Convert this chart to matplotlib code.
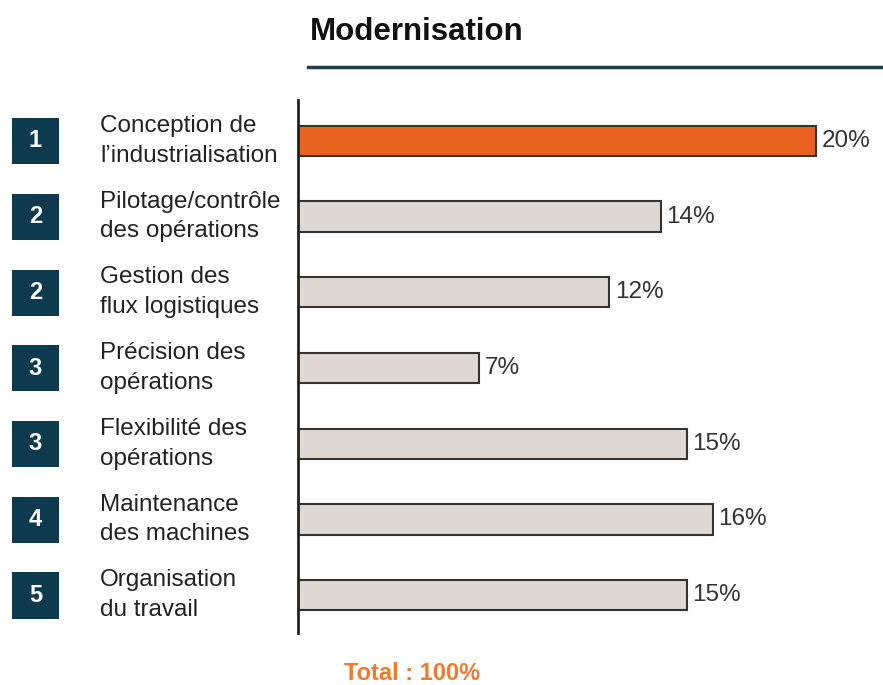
import matplotlib.pyplot as plt
from matplotlib.patches import Rectangle
from matplotlib.transforms import blended_transform_factory

plt.rcParams['font.family'] = ['Liberation Sans', 'DejaVu Sans']

labels = ["Conception de\nl’industrialisation", "Pilotage/contrôle\ndes opérations",
          "Gestion des\nflux logistiques", "Précision des\nopérations",
          "Flexibilité des\nopérations", "Maintenance\ndes machines",
          "Organisation\ndu travail"]
ranks = [1, 2, 2, 3, 3, 4, 5]
values = [20, 14, 12, 7, 15, 16, 15]

orange = "#E8641E"
grey = "#DFD8D2"
navy = "#0E3A50"

fig = plt.figure(figsize=(8.83, 6.85), dpi=100)
ax = fig.add_axes([298 / 883, 52 / 685, 583 / 883, 533 / 685])

ypos = list(range(len(values)))
colors = [orange] + [grey] * (len(values) - 1)
ax.barh(ypos, values, height=0.4, color=colors, edgecolor="#333333", linewidth=1.5)
ax.set_xlim(0, 22.5)
ax.set_ylim(6.5, -0.54)

for y, v in zip(ypos, values):
    ax.text(v + 0.22, y, f"{v}%", va="center", ha="left", fontsize=17.5, color="#333333")

tr = blended_transform_factory(fig.transFigure, ax.transData)
for y, r, lab in zip(ypos, ranks, labels):
    ax.add_patch(Rectangle((12 / 883, y - 0.3), 47 / 883, 0.61, transform=tr,
                           facecolor=navy, edgecolor="none", clip_on=False))
    ax.text(35.5 / 883, y, str(r), transform=tr, ha="center", va="center",
            color="white", fontsize=17, fontweight="bold")
    ax.text(100 / 883, y, lab, transform=tr, ha="left", va="center",
            fontsize=17.5, color="#222222", linespacing=1.45)

for s in ["top", "right", "bottom"]:
    ax.spines[s].set_visible(False)
ax.spines["left"].set_linewidth(2)
ax.spines["left"].set_color("#222222")
ax.set_xticks([])
ax.set_yticks([])

fig.text(310 / 883, 1 - 32 / 685, "Modernisation", fontsize=22.5, fontweight="bold",
         ha="left", va="center", color="#111111")
fig.add_artist(plt.Line2D([308 / 883, 1], [1 - 67 / 685] * 2, color="#1F3F55", linewidth=2.5))
fig.text(412 / 883, 1 - 673 / 685, "Total : 100%", fontsize=17, fontweight="bold",
         ha="center", va="center", color="#F07A30")

fig.savefig("out.png", dpi=100)
